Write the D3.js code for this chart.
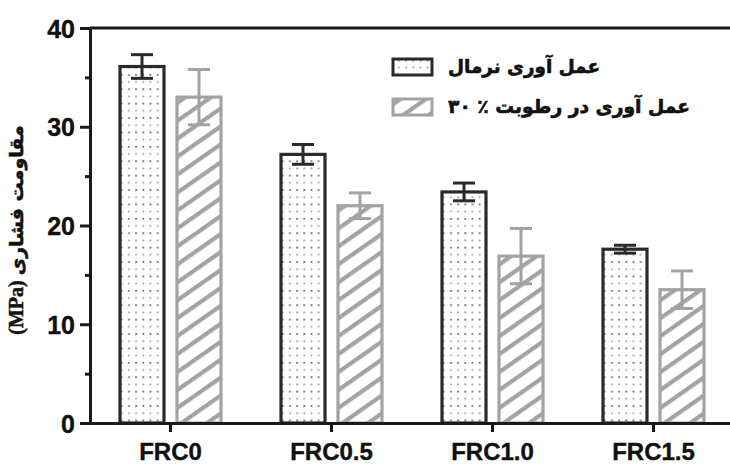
<!DOCTYPE html>
<html>
<head>
<meta charset="utf-8">
<script src="https://cdn.jsdelivr.net/npm/d3@7"></script>
<style>
  html, body { margin: 0; padding: 0; background: #fff; }
  svg { display: block; }
</style>
</head>
<body>
<svg id="chart" width="730" height="464"></svg>
<script>
// Compressive strength by fibre content, two curing regimes
const categories = ["FRC0", "FRC0.5", "FRC1.0", "FRC1.5"];
const seriesKeys = ["normal", "humid"];
const seriesLabels = ["عمل آوری نرمال", "عمل آوری در رطوبت ٪ ۳۰"];
const normalValues = [36.1, 27.2, 23.4, 17.6];
const normalErrors = [1.2, 1.0, 0.9, 0.4];
const humidValues = [33.0, 22.0, 16.9, 13.5];
const humidErrors = [2.8, 1.3, 2.8, 1.9];
const yTicks = [0, 10, 20, 30, 40];
const yMinorTicks = [5, 15, 25, 35];
const yLabelFa = "مقاومت فشاری";
const yLabelUnit = "(MPa)";

const rows = categories.map((c, i) => ({
  cat: c,
  normal: { v: normalValues[i], e: normalErrors[i] },
  humid: { v: humidValues[i], e: humidErrors[i] }
}));

const svg = d3.select("#chart");
const plotLeft = 90, plotRight = 734, plotTop = 28, plotBottom = 423;

const x = d3.scaleBand().domain(categories).range([plotLeft, plotRight]).padding(0);
const xi = d3.scaleBand().domain(seriesKeys).range([0, x.bandwidth()])
  .paddingInner(0.1754).paddingOuter(0.5);
const y = d3.scaleLinear().domain([0, 40]).range([plotBottom, plotTop]);

const darkCol = "#2a2a2a";
const greyCol = "#a3a3a3";

// Fill patterns: dotted for normal curing, diagonal hatch for humid curing
const defs = svg.append("defs");
const dots = defs.append("pattern")
  .attr("id", "dots").attr("patternUnits", "userSpaceOnUse")
  .attr("width", 7.2).attr("height", 14.4);
dots.append("rect").attr("width", 7.2).attr("height", 14.4).attr("fill", "#fff");
dots.append("rect").attr("x", 2).attr("y", 2).attr("width", 1.8).attr("height", 1.6).attr("fill", "#5e5e5e");
dots.append("rect").attr("x", 2).attr("y", 9.2).attr("width", 1.8).attr("height", 1.6).attr("fill", "#9a9a9a");

const hatch = defs.append("pattern")
  .attr("id", "hatch").attr("patternUnits", "userSpaceOnUse")
  .attr("width", 20).attr("height", 14.7)
  .attr("patternTransform", "rotate(-35)");
hatch.append("rect").attr("width", 20).attr("height", 14.7).attr("fill", "#fff");
hatch.append("rect").attr("x", 0).attr("y", 0).attr("width", 20).attr("height", 4.2).attr("fill", greyCol);

const style = {
  normal: { fill: "url(#dots)", stroke: darkCol },
  humid: { fill: "url(#hatch)", stroke: greyCol }
};

// Bars
const groups = svg.append("g").selectAll("g").data(rows).join("g")
  .attr("transform", d => `translate(${x(d.cat)},0)`);

seriesKeys.forEach(k => {
  groups.append("rect")
    .attr("x", xi(k) + 1.5)
    .attr("y", d => y(d[k].v))
    .attr("width", xi.bandwidth() - 3)
    .attr("height", d => y(0) - y(d[k].v))
    .attr("fill", style[k].fill)
    .attr("stroke", style[k].stroke)
    .attr("stroke-width", 3.2);
});

// Error bars (mean ± error)
const capHalf = 11;
seriesKeys.forEach(k => {
  const cx = xi(k) + xi.bandwidth() / 2;
  const eg = groups.append("g").attr("stroke", style[k].stroke).attr("stroke-width", 3);
  eg.append("line").attr("x1", cx).attr("x2", cx)
    .attr("y1", d => y(d[k].v + d[k].e)).attr("y2", d => y(d[k].v - d[k].e));
  eg.append("line").attr("x1", cx - capHalf).attr("x2", cx + capHalf)
    .attr("y1", d => y(d[k].v + d[k].e)).attr("y2", d => y(d[k].v + d[k].e));
  eg.append("line").attr("x1", cx - capHalf).attr("x2", cx + capHalf)
    .attr("y1", d => y(d[k].v - d[k].e)).attr("y2", d => y(d[k].v - d[k].e));
});

// Frame top line
svg.append("line").attr("x1", plotLeft).attr("x2", 730).attr("y1", plotTop).attr("y2", plotTop)
  .attr("stroke", "#1a1a1a").attr("stroke-width", 3);

// Y axis
const yAxis = svg.append("g").attr("transform", `translate(${plotLeft},0)`)
  .call(d3.axisLeft(y).tickValues(yTicks).tickSize(10).tickPadding(5).tickFormat(d3.format("d")));
yAxis.select(".domain").attr("stroke", "#1a1a1a").attr("stroke-width", 3);
yAxis.selectAll(".tick line").attr("stroke", "#1a1a1a").attr("stroke-width", 3);
yAxis.selectAll(".tick text")
  .attr("font-family", "'Liberation Sans', Arial, sans-serif")
  .attr("font-weight", "bold").attr("font-size", 25).attr("fill", "#111")
  .attr("stroke", "#111").attr("stroke-width", 0.4)
  .attr("dy", "0.36em");
const yMinor = svg.append("g").attr("transform", `translate(${plotLeft},0)`)
  .call(d3.axisLeft(y).tickValues(yMinorTicks).tickSize(5).tickFormat(""));
yMinor.select(".domain").remove();
yMinor.selectAll(".tick line").attr("stroke", "#1a1a1a").attr("stroke-width", 3);

// X axis
const xAxis = svg.append("g").attr("transform", `translate(0,${plotBottom})`)
  .call(d3.axisBottom(x).tickSize(9).tickPadding(11));
xAxis.select(".domain").attr("stroke", "#1a1a1a").attr("stroke-width", 3)
  .attr("d", `M${plotLeft},0.5H730`);
xAxis.selectAll(".tick line").attr("stroke", "#1a1a1a").attr("stroke-width", 3);
xAxis.selectAll(".tick text")
  .attr("font-family", "'Liberation Sans', Arial, sans-serif")
  .attr("font-weight", "bold").attr("font-size", 24).attr("fill", "#111")
  .attr("stroke", "#111").attr("stroke-width", 0.4);

// Y axis title (rotated)
const yt = svg.append("text")
  .attr("transform", "translate(23,230) rotate(-90)")
  .attr("text-anchor", "middle")
  .attr("font-weight", "bold").attr("fill", "#111")
  .attr("stroke", "#111").attr("stroke-width", 0.5);
yt.append("tspan").attr("font-family", "'Liberation Serif', serif").attr("font-size", 20).text(yLabelUnit + " ");
yt.append("tspan").attr("font-family", "'DejaVu Sans', sans-serif").attr("font-size", 19).text(yLabelFa);

// Legend
const legend = svg.append("g");
const legendRows = [
  { key: "normal", label: seriesLabels[0], y: 67, w: 152 },
  { key: "humid", label: seriesLabels[1], y: 107, w: 242 }
];
legendRows.forEach(r => {
  legend.append("rect")
    .attr("x", 393).attr("y", r.y - 8).attr("width", 39).attr("height", 16)
    .attr("fill", style[r.key].fill).attr("stroke", style[r.key].stroke).attr("stroke-width", 3);
  legend.append("text")
    .attr("x", 448).attr("y", r.y + 6)
    .attr("font-family", "'DejaVu Sans', sans-serif")
    .attr("font-weight", "bold").attr("font-size", 19).attr("fill", "#111")
    .attr("stroke", "#111").attr("stroke-width", 0.6)
    .attr("textLength", r.w).attr("lengthAdjust", "spacingAndGlyphs")
    .text(r.label);
});
</script>
</body>
</html>
